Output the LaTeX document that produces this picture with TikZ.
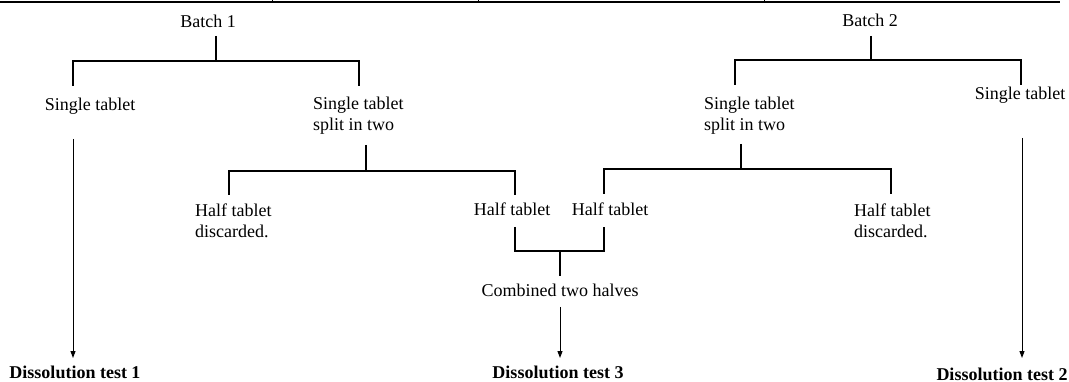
\documentclass[tikz,border=0pt]{standalone}
\usepackage{fontspec}
\setmainfont{Liberation Serif}
\usetikzlibrary{arrows.meta}
\tikzset{
  lbl/.style={inner sep=0pt, font=\fontsize{18}{20.7}\selectfont},
  lblml/.style={lbl, anchor=north west, align=left},
  res/.style={inner sep=0pt, anchor=base, font=\fontsize{18}{20.7}\selectfont\bfseries},
  link/.style={line width=1.3pt, line join=miter},
  arr/.style={line width=1pt, -{Triangle[length=7pt,width=5pt]}},
  rule/.style={line width=1.7pt},
  tick/.style={line width=1pt}
}
\begin{document}
\begin{tikzpicture}[x=1pt,y=-1pt]
\useasboundingbox (0,0) rectangle (1069,382);
% table residue at top
\coordinate (r0) at (0,1.8);
\coordinate (r1) at (1060,1.8);
\draw[rule] (r0) -- (r1);
\coordinate (t1) at (272,0); \coordinate (t1b) at (272,1.8);
\coordinate (t2) at (478,0); \coordinate (t2b) at (478,1.8);
\coordinate (t3) at (764,0); \coordinate (t3b) at (764,1.8);
\draw[tick] (t1) -- (t1b);
\draw[tick] (t2) -- (t2b);
\draw[tick] (t3) -- (t3b);

% text nodes
\node[lbl, anchor=base] (batch1) at (208,27.7) {Batch 1};
\node[lbl, anchor=base] (batch2) at (870,27) {Batch 2};
\node[lbl, anchor=base] (st1) at (90,111) {Single tablet};
\node[lbl, anchor=base] (st2) at (1020,100) {Single tablet};
\node[lblml] (sp1) at (313,96.7) {Single tablet\\split in two};
\node[lblml] (sp2) at (704,96.7) {Single tablet\\split in two};
\node[lblml] (hd1) at (195,203.7) {Half tablet\\discarded.};
\node[lblml] (hd2) at (854,203.7) {Half tablet\\discarded.};
\node[lbl, anchor=base] (hk1) at (512,216) {Half tablet};
\node[lbl, anchor=base] (hk2) at (610,216) {Half tablet};
\node[lbl, anchor=base] (comb) at (560,297) {Combined two halves};
\node[res] (d1) at (75,378) {Dissolution test 1};
\node[res] (d3) at (558,378) {Dissolution test 3};
\node[res] (d2) at (1002,380) {Dissolution test 2};

% batch 1 bracket
\coordinate (a1) at (216,36); \coordinate (a2) at (216,61);
\coordinate (a3) at (73,86); \coordinate (a4) at (359,86);
\draw[link] (a1) -- (a2);
\draw[link] (a3) |- (a2) -| (a4);
% batch 2 bracket
\coordinate (b1) at (871,36); \coordinate (b2) at (871,60);
\coordinate (b3) at (735,85); \coordinate (b4) at (1021,85);
\draw[link] (b1) -- (b2);
\draw[link] (b3) |- (b2) -| (b4);
% split 1 bracket
\coordinate (c1) at (366,145); \coordinate (c2) at (366,171);
\coordinate (c3) at (229,195); \coordinate (c4) at (515,195);
\draw[link] (c1) -- (c2);
\draw[link] (c3) |- (c2) -| (c4);
% split 2 bracket
\coordinate (e1) at (741,144); \coordinate (e2) at (741,169);
\coordinate (e3) at (604,194); \coordinate (e4) at (891,194);
\draw[link] (e1) -- (e2);
\draw[link] (e3) |- (e2) -| (e4);
% combine bracket
\coordinate (f1) at (515,227); \coordinate (f2) at (604,227);
\coordinate (f3) at (560,251); \coordinate (f4) at (560,276);
\draw[link] (f1) |- (f3) -| (f2);
\draw[link] (f3) -- (f4);

% arrows
\coordinate (g1) at (73,139); \coordinate (g1e) at (73,358);
\coordinate (g3) at (560,307); \coordinate (g3e) at (560,358);
\coordinate (g2) at (1022,138); \coordinate (g2e) at (1022,358);
\draw[arr] (g1) -- (g1e);
\draw[arr] (g3) -- (g3e);
\draw[arr] (g2) -- (g2e);
\end{tikzpicture}
\end{document}
